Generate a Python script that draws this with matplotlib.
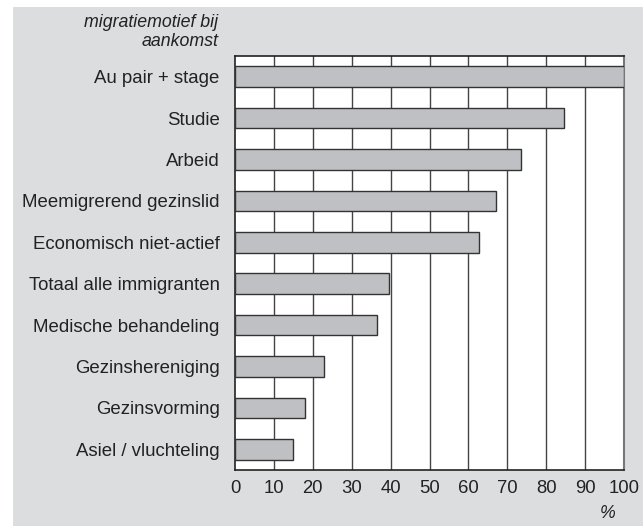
import numpy as np
import matplotlib.pyplot as plt
from matplotlib.patches import Rectangle

plt.rcParams['font.family'] = ['Liberation Sans', 'DejaVu Sans']

# Data (percentages)
categories = ['Au pair + stage', 'Studie', 'Arbeid', 'Meemigrerend gezinslid',
              'Economisch niet-actief', 'Totaal alle immigranten',
              'Medische behandeling', 'Gezinshereniging', 'Gezinsvorming',
              'Asiel / vluchteling']
values = [100, 84.7, 73.4, 67.2, 62.8, 39.6, 36.6, 23.0, 18.0, 15.0]
xticks = list(range(0, 101, 10))

W, H = 643, 526
fig = plt.figure(figsize=(W / 100, H / 100), dpi=100, facecolor='white')

# grey panel behind everything
fig.patches.append(Rectangle((13 / W, 0), 1 - 13 / W, 1 - 7 / H,
                             transform=fig.transFigure, facecolor='#dcdddf',
                             edgecolor='none', zorder=-10))

ax = fig.add_axes([235 / W, 56 / H, 389 / W, 414 / H])
ax.set_zorder(1)
ax.set_facecolor('white')

y = np.arange(len(categories))
ax.barh(y, values, height=0.5, color='#bfc0c3', edgecolor='#333333',
        linewidth=1.0, zorder=3)

ax.set_xlim(0, 100)
ax.set_ylim(len(categories) - 0.5, -0.5)
ax.set_xticks(xticks)
ax.set_xticklabels([str(t) for t in xticks], fontsize=13.3, color='#222222')
ax.set_yticks(y)
ax.set_yticklabels(categories, fontsize=13.4, color='#222222')
ax.tick_params(axis='both', length=0)
ax.tick_params(axis='y', pad=11)
ax.tick_params(axis='x', pad=7)

for t in xticks[1:-1]:
    ax.axvline(t, color='#444444', linewidth=1.0, zorder=1)

for side in ['top', 'left', 'bottom']:
    ax.spines[side].set_color('#222222')
    ax.spines[side].set_linewidth(1.2)
ax.spines['right'].set_color('#777777')
ax.spines['right'].set_linewidth(1.5)

fig.text(218 / W, 1 - 32 / H, 'migratiemotief bij\naankomst', ha='right',
         va='center', fontsize=12.8, style='italic', color='#222222',
         linespacing=1.22)
fig.text(608 / W, 1 - 514 / H, '%', ha='center', va='center',
         fontsize=12.8, style='italic', color='#222222')

fig.savefig('out.png', dpi=100, facecolor='white')
